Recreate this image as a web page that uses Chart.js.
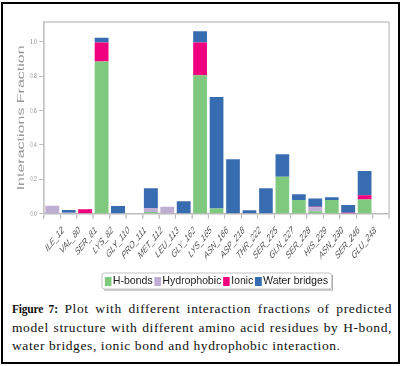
<!DOCTYPE html>
<html>
<head>
<meta charset="utf-8">
<script src="https://cdn.jsdelivr.net/npm/chart.js@4.4.1/dist/chart.umd.min.js"></script>
<style>
  html, body { margin:0; padding:0; background:#fff; width:401px; height:366px; overflow:hidden; }
  #frame { position:absolute; left:1px; top:2px; width:399px; height:362px; border:2px solid #000; box-sizing:border-box; }
  #wrap { position:absolute; left:0; top:0; width:668px; height:300px; transform-origin:0 0; transform:scaleX(0.6003); }
  #caption { position:absolute; left:12px; top:300px; width:380px; font-family:"Liberation Serif", serif; font-size:13.5px; letter-spacing:0.6px; line-height:18.5px; color:#111; }
  #caption div { white-space:nowrap; }
  #caption .j { text-align:justify; text-align-last:justify; }
  #caption b { font-size:11.5px; letter-spacing:-0.2px; }
</style>
</head>
<body>
<div id="wrap"><canvas id="c" width="668" height="300" style="width:668px;height:300px"></canvas></div>
<div id="caption">
  <div class="j"><b>Figure 7:</b> Plot with different interaction fractions of predicted</div>
  <div class="j">model structure with different amino acid residues by H-bond,</div>
  <div>water bridges, ionic bond and hydrophobic interaction.</div>
</div>
<div id="frame"></div>
<script>
// ---- data ----
const categories = ['ILE_12','VAL_80','SER_81','LYS_82','GLY_110','PRO_111','MET_112','LEU_113','GLY_162','LYS_165','ASN_166','ASP_218','THR_222','SER_225','GLN_227','SER_228','HIS_229','ASN_230','SER_246','GLU_248'];
const hBonds      = [0,     0,     0,     0.885, 0,     0, 0.010, 0,     0,     0.805, 0.030, 0,     0,     0,     0.215, 0.080, 0.014, 0.080, 0,     0.083];
const hydrophobic = [0.046, 0.006, 0,     0,     0,     0, 0.023, 0.040, 0,     0,     0,     0,     0,     0,     0,     0,     0.023, 0,     0,     0];
const ionic       = [0,     0,     0.026, 0.110, 0,     0, 0,     0,     0,     0.190, 0,     0,     0,     0,     0,     0,     0.003, 0,     0.006, 0.024];
const waterBridges= [0,     0.016, 0,     0.027, 0.045, 0, 0.115, 0,     0.072, 0.065, 0.648, 0.316, 0.020, 0.148, 0.130, 0.033, 0.048, 0.016, 0.044, 0.141];
const yTicks = [0, 0.2, 0.4, 0.6, 0.8, 1.0];
const yMax = 1.114;
const seriesNames = ['H-bonds','Hydrophobic','Ionic','Water bridges'];
const seriesColors = ['#7fc97f','#beaed4','#f0027f','#386cb0'];

const SX = 0.6003; // horizontal squeeze of the plot picture
const labels = categories.concat(['']); // trailing empty slot (blank space at right of plot)

const framePlugin = {
  id:'frame',
  afterDraw(chart){
    const {ctx, chartArea:a} = chart;
    ctx.save();
    ctx.strokeStyle = '#c8c8c8';
    ctx.lineWidth = 1.5;
    ctx.beginPath(); ctx.moveTo(a.left, a.top); ctx.lineTo(a.right, a.top); ctx.stroke();
    ctx.lineWidth = 2.5;
    ctx.beginPath(); ctx.moveTo(a.right, a.top); ctx.lineTo(a.right, a.bottom); ctx.stroke();
    ctx.restore();
  }
};

const legendPlugin = {
  id:'boxLegend',
  afterDraw(chart){
    const ctx = chart.ctx;
    ctx.save();
    ctx.scale(1/SX, 1); // draw in picture pixels
    ctx.font = '10.5px "Liberation Sans", Arial, sans-serif';
    ctx.textBaseline = 'middle';
    const boxW = 6.5, gapT = 1.5, gapI = 1.8;
    const items = chart.data.datasets.map(d => ({t:d.label, c:d.backgroundColor, w:ctx.measureText(d.label).width}));
    let total = 0;
    items.forEach((it,i) => { total += boxW + gapT + it.w + (i < items.length-1 ? gapI : 0); });
    const cx = 216.5, top = 273, bot = 289;
    const L = cx - total/2 - 3, R = cx + total/2 + 3.5;
    ctx.strokeStyle = '#999'; ctx.lineWidth = 1;
    ctx.beginPath(); ctx.moveTo(R+1, top+2); ctx.lineTo(R+1, bot+1); ctx.lineTo(L+2, bot+1); ctx.stroke();
    ctx.fillStyle = '#fff'; ctx.strokeStyle = '#c4c4c4';
    ctx.beginPath(); ctx.roundRect(L, top, R-L, bot-top, 3); ctx.fill(); ctx.stroke();
    let x = L + 3;
    const yMid = (top+bot)/2 + 0.5;
    items.forEach(it => {
      ctx.fillStyle = it.c; ctx.fillRect(x, yMid-4.5, boxW, 9);
      x += boxW + gapT;
      ctx.fillStyle = '#222'; ctx.fillText(it.t, x, yMid);
      x += it.w + gapI;
    });
    ctx.restore();
  }
};

const datasets = [hBonds, hydrophobic, ionic, waterBridges].map((arr,i) => ({
  label: seriesNames[i], data: arr, backgroundColor: seriesColors[i], borderWidth:0,
  barPercentage:0.84, categoryPercentage:1.0
}));

new Chart(document.getElementById('c'), {
  type:'bar',
  data:{ labels, datasets },
  options:{
    responsive:false, animation:false, devicePixelRatio:1,
    layout:{ padding:{ left:0, top:22, right:19.7, bottom:26.3 } },
    plugins:{ legend:{display:false}, tooltip:{enabled:false} },
    scales:{
      x:{
        stacked:true,
        afterFit(s){ s.height = 60; },
        grid:{ display:true, drawOnChartArea:false, drawTicks:true, tickLength:5, color:'#bbb', lineWidth:2, offset:true },
        border:{ display:true, color:'#bbb', width:1.5 },
        ticks:{ autoSkip:false, minRotation:37, maxRotation:37, labelOffset:18, padding:5,
          color:'#555', font:{ family:'"Liberation Sans", Arial, sans-serif', size:11 } }
      },
      y:{
        stacked:true, min:0, max:yMax,
        afterFit(s){ s.width = 73.3; },
        afterBuildTicks(s){ s.ticks = yTicks.map(v => ({value:v})); },
        grid:{ display:true, drawOnChartArea:false, drawTicks:true, tickLength:8, color:'#bbb', lineWidth:1 },
        border:{ display:true, color:'#c0c0c0', width:2.5 },
        ticks:{ padding:4, color:'#999', font:{ family:'"Liberation Sans", Arial, sans-serif', size:8 },
          callback:(v) => Number(v).toFixed(1) },
        title:{ display:true, text:'Interactions Fraction', color:'#999',
          font:{ family:'"Liberation Sans", Arial, sans-serif', size:16 }, padding:{ top:26, bottom:0 } }
      }
    }
  },
  plugins:[framePlugin, legendPlugin]
});
</script>
</body>
</html>
